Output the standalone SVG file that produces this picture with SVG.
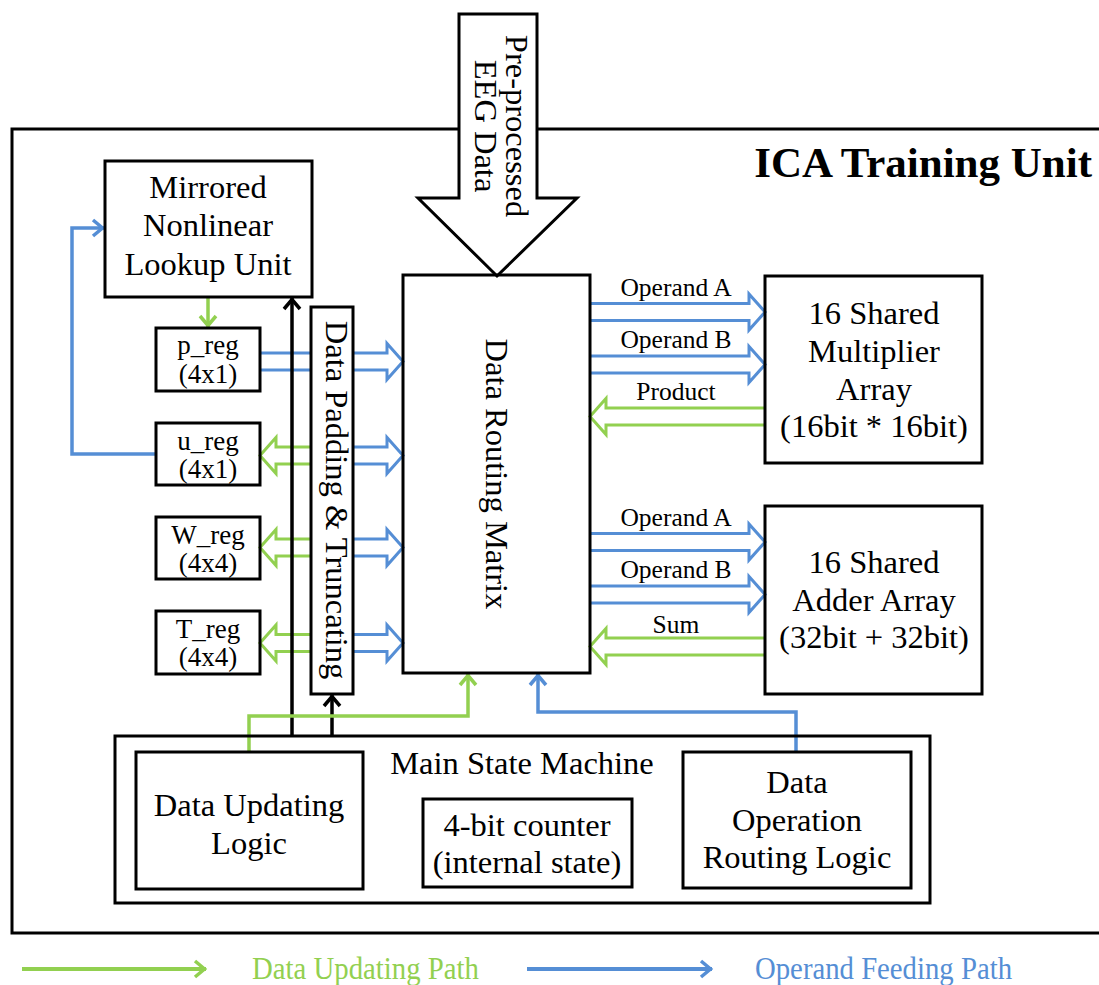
<svg xmlns="http://www.w3.org/2000/svg" width="1099" height="985" viewBox="0 0 1099 985">
<style>
.box{fill:none;stroke:#000;stroke-width:3}
.wbox{fill:#fff;stroke:#000;stroke-width:3}
.t{font-family:"Liberation Serif","Times New Roman",serif;font-size:32.5px;fill:#000;text-anchor:middle}
.rt{font-family:"Liberation Serif","Times New Roman",serif;font-size:27px;fill:#000;text-anchor:middle}
.lt{font-family:"Liberation Serif","Times New Roman",serif;font-size:25.5px;fill:#000;text-anchor:middle}
.blk{fill:none;stroke:#000;stroke-width:3.5}
.grn{fill:none;stroke:#92D050;stroke-width:3.5}
.blu{fill:none;stroke:#558ED5;stroke-width:3.5}
.bag{fill:none;stroke:#92D050;stroke-width:3}
.bab{fill:none;stroke:#558ED5;stroke-width:3}
</style>
<defs>
<marker id="mk" markerUnits="userSpaceOnUse" markerWidth="20" markerHeight="22" viewBox="-14 -11 16 22" refX="0" refY="0" orient="auto">
<path d="M-11,-8 L-1.5,0 L-11,8" fill="none" stroke="#000" stroke-width="3.5"/>
</marker>
<marker id="mg" markerUnits="userSpaceOnUse" markerWidth="20" markerHeight="22" viewBox="-14 -11 16 22" refX="0" refY="0" orient="auto">
<path d="M-11,-8 L-1.5,0 L-11,8" fill="none" stroke="#92D050" stroke-width="3.5"/>
</marker>
<marker id="mb" markerUnits="userSpaceOnUse" markerWidth="20" markerHeight="22" viewBox="-14 -11 16 22" refX="0" refY="0" orient="auto">
<path d="M-11,-8 L-1.5,0 L-11,8" fill="none" stroke="#558ED5" stroke-width="3.5"/>
</marker>
</defs>
<rect width="1099" height="985" fill="#fff"/>

<g id="frame">
<rect x="12" y="129" width="1100" height="804" class="box"/>
<text x="1092" y="177" font-family="Liberation Serif, Times New Roman, serif" font-size="43" font-weight="bold" text-anchor="end">ICA Training Unit</text>
</g>

<g id="connectors">
<!-- register <-> routing block arrows -->
<path class="bab" d="M260,353 L387,353 L387,343.5 L403,361.5 L387,379.5 L387,370 L260,370"/>
<path class="bab" d="M353,447 L387,447 L387,437.5 L403,455.5 L387,473.5 L387,464 L353,464"/>
<path class="bag" d="M311,447 L276,447 L276,437.5 L260,455.5 L276,473.5 L276,464 L311,464"/>
<path class="bab" d="M353,539 L387,539 L387,529.5 L403,547.5 L387,565.5 L387,556 L353,556"/>
<path class="bag" d="M311,539 L276,539 L276,529.5 L260,547.5 L276,565.5 L276,556 L311,556"/>
<path class="bab" d="M353,634.5 L387,634.5 L387,625 L403,643 L387,661 L387,651.5 L353,651.5"/>
<path class="bag" d="M311,634.5 L276,634.5 L276,625 L260,643 L276,661 L276,651.5 L311,651.5"/>
<!-- multiplier arrows -->
<path class="bab" d="M590,303.5 L749,303.5 L749,294 L765,312 L749,330 L749,320.5 L590,320.5"/>
<path class="bab" d="M590,356 L749,356 L749,346.5 L765,364.5 L749,382.5 L749,373 L590,373"/>
<path class="bag" d="M765,408 L606,408 L606,398.5 L590,416.5 L606,434.5 L606,425 L765,425"/>
<!-- adder arrows -->
<path class="bab" d="M590,533.5 L749,533.5 L749,524 L765,542 L749,560 L749,550.5 L590,550.5"/>
<path class="bab" d="M590,586 L749,586 L749,576.5 L765,594.5 L749,612.5 L749,603 L590,603"/>
<path class="bag" d="M765,638 L606,638 L606,628.5 L590,646.5 L606,664.5 L606,655 L765,655"/>
<text class="lt" x="676" y="296">Operand A</text>
<text class="lt" x="676" y="348">Operand B</text>
<text class="lt" x="676" y="400">Product</text>
<text class="lt" x="676" y="526">Operand A</text>
<text class="lt" x="676" y="578">Operand B</text>
<text class="lt" x="676" y="633">Sum</text>
<!-- line connectors -->
<polyline class="blu" points="156,454 72,454 72,228 104,228" marker-end="url(#mb)"/>
<line class="grn" x1="208" y1="298" x2="208" y2="327" marker-end="url(#mg)"/>
<line class="blk" x1="292" y1="735" x2="292" y2="298" marker-end="url(#mk)"/>
<line class="blk" x1="332" y1="735" x2="332" y2="695" marker-end="url(#mk)"/>
<polyline class="grn" points="249,751 249,716 468,716 468,674" marker-end="url(#mg)"/>
<polyline class="blu" points="796,751 796,712 538,712 538,674" marker-end="url(#mb)"/>
</g>

<g id="input-arrow">
<polygon class="wbox" points="459,14 537,14 537,198 577,198 497,276 418,198 459,198"/>
<g transform="translate(497,126) rotate(90)">
<text class="t" x="0" y="-9" font-size="34.5">Pre-processed</text>
<text class="t" x="0" y="22" font-size="34.5">EEG Data</text>
</g>
</g>

<g id="mirrored-lut">
<rect x="105" y="161" width="207" height="136" class="box"/>
<text class="t" x="208" y="198">Mirrored</text>
<text class="t" x="208" y="236">Nonlinear</text>
<text class="t" x="208" y="275">Lookup Unit</text>
</g>

<g id="p-reg">
<rect x="156" y="328" width="104" height="63" class="box"/>
<text class="rt" x="208" y="354">p_reg</text>
<text class="rt" x="208" y="383">(4x1)</text>
</g>
<g id="u-reg">
<rect x="156" y="423" width="104" height="62" class="box"/>
<text class="rt" x="208" y="450">u_reg</text>
<text class="rt" x="208" y="478">(4x1)</text>
</g>
<g id="w-reg">
<rect x="156" y="517" width="104" height="62" class="box"/>
<text class="rt" x="208" y="544">W_reg</text>
<text class="rt" x="208" y="572">(4x4)</text>
</g>
<g id="t-reg">
<rect x="156" y="611" width="104" height="63" class="box"/>
<text class="rt" x="208" y="638">T_reg</text>
<text class="rt" x="208" y="666">(4x4)</text>
</g>

<g id="padding">
<rect x="311" y="307" width="42" height="387" class="wbox"/>
<text class="t" font-size="34" transform="translate(332,500) rotate(90)" x="0" y="6">Data Padding &amp; Truncating</text>
</g>

<g id="routing-matrix">
<rect x="403" y="275" width="187" height="398" class="box"/>
<text class="t" font-size="34.5" transform="translate(497,474) rotate(90)" x="0" y="11">Data Routing Matrix</text>
</g>

<g id="multiplier">
<rect x="765" y="276" width="217" height="187" class="box"/>
<text class="t" x="874" y="324">16 Shared</text>
<text class="t" x="874" y="362">Multiplier</text>
<text class="t" x="874" y="400">Array</text>
<text class="t" x="874" y="437">(16bit * 16bit)</text>
</g>

<g id="adder">
<rect x="765" y="506" width="217" height="188" class="box"/>
<text class="t" x="874" y="573">16 Shared</text>
<text class="t" x="874" y="611">Adder Array</text>
<text class="t" x="874" y="648">(32bit + 32bit)</text>
</g>

<g id="main-state-machine">
<rect x="115" y="736" width="815" height="167" class="box"/>
<text class="t" x="522" y="774">Main State Machine</text>
</g>

<g id="data-updating-logic">
<rect x="136" y="752" width="227" height="137" class="box"/>
<text class="t" x="249" y="816">Data Updating</text>
<text class="t" x="249" y="854">Logic</text>
</g>

<g id="counter">
<rect x="423" y="799" width="209" height="88" class="box"/>
<text class="t" x="527" y="836">4-bit counter</text>
<text class="t" x="527" y="873">(internal state)</text>
</g>

<g id="data-operation-routing">
<rect x="683" y="752" width="228" height="136" class="box"/>
<text class="t" x="797" y="793">Data</text>
<text class="t" x="797" y="831">Operation</text>
<text class="t" x="797" y="868">Routing Logic</text>
</g>

<g id="legend">
<line x1="22" y1="969" x2="206" y2="969" stroke="#92D050" stroke-width="4" marker-end="url(#mg)"/>
<text x="252" y="979" font-family="Liberation Serif, Times New Roman, serif" font-size="31" fill="#92D050" textLength="227" lengthAdjust="spacingAndGlyphs">Data Updating Path</text>
<line x1="527" y1="969" x2="712" y2="969" stroke="#558ED5" stroke-width="4" marker-end="url(#mb)"/>
<text x="755" y="979" font-family="Liberation Serif, Times New Roman, serif" font-size="31" fill="#558ED5" textLength="257" lengthAdjust="spacingAndGlyphs">Operand Feeding Path</text>
</g>
</svg>
